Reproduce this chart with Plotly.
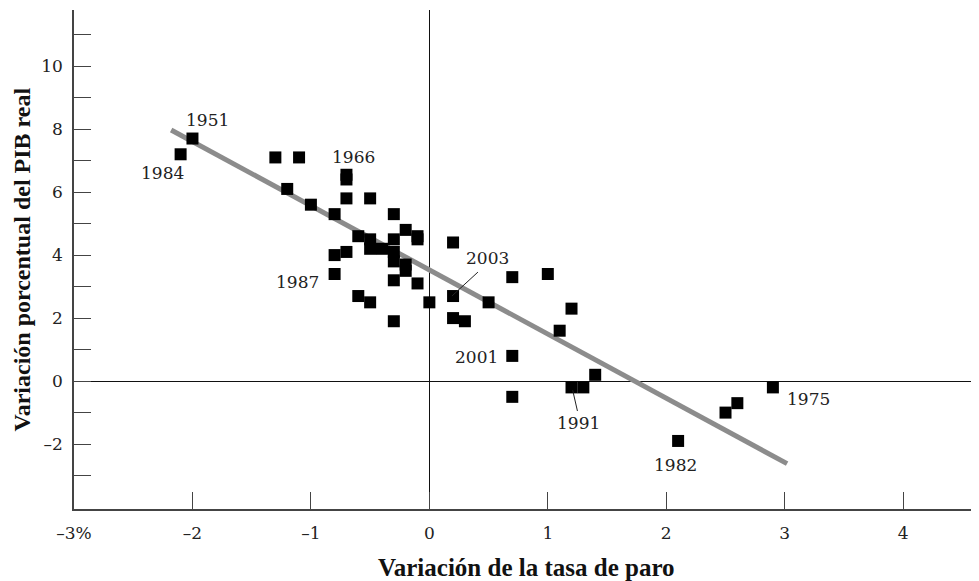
import plotly.graph_objects as go

# Data: change in unemployment rate (x) vs. % change in real GDP (y)
unemp_change = [-2.1, -2.0, -1.3, -1.1, -1.2, -1.0, -0.8, -0.7, -0.7, -0.7,
                -0.5, -0.3, -0.2, -0.1, -0.1, -0.6, -0.5, -0.5, -0.4, -0.3,
                -0.3, -0.3, -0.2, -0.2, -0.7, -0.8, -0.8, -0.3, -0.1, -0.6,
                -0.5, 0.0, -0.3, 0.2, 0.2, 0.2, 0.3, 0.5, 0.7, 1.0,
                1.2, 1.1, 0.7, 0.7, 1.2, 1.3, 1.4, 2.9, 2.6, 2.5, 2.1]
gdp_change = [7.2, 7.7, 7.1, 7.1, 6.1, 5.6, 5.3, 6.55, 6.4, 5.8,
              5.8, 5.3, 4.8, 4.6, 4.5, 4.6, 4.5, 4.2, 4.2, 4.5,
              4.1, 3.8, 3.7, 3.5, 4.1, 4.0, 3.4, 3.2, 3.1, 2.7,
              2.5, 2.5, 1.9, 4.4, 2.7, 2.0, 1.9, 2.5, 3.3, 3.4,
              2.3, 1.6, 0.8, -0.5, -0.2, -0.2, 0.2, -0.2, -0.7, -1.0, -1.9]

# Regression line endpoints
fit_x = [-2.18, 3.02]
fit_y = [7.97, -2.62]

# Year labels
year_labels = ["1951", "1984", "1966", "1987", "2003", "2001", "1991", "1982", "1975"]
year_label_x = [-1.875, -2.25, -0.64, -1.11, 0.49, 0.40, 1.26, 2.08, 3.20]
year_label_y = [8.29, 6.60, 7.11, 3.14, 3.90, 0.76, -1.33, -2.67, -0.57]

x_tickvals = [-3, -2, -1, 0, 1, 2, 3, 4]
x_ticktext = ["–3%", "–2", "–1", "0", "1", "2", "3", "4"]
y_tickvals = list(range(-3, 12))
y_ticktext = [("–" + str(-v) if v < 0 else str(v)) if v % 2 == 0 else "" for v in y_tickvals]

serif = "DejaVu Serif"
bold_serif = "Liberation Serif"

fig = go.Figure()
fig.add_trace(go.Scatter(x=fit_x, y=fit_y, mode="lines",
                         line=dict(color="#8c8c8c", width=5), hoverinfo="skip"))
fig.add_trace(go.Scatter(x=unemp_change, y=gdp_change, mode="markers",
                         marker=dict(symbol="square", size=12, color="black",
                                     line=dict(width=0))))

for t, ax, ay in zip(year_labels, year_label_x, year_label_y):
    fig.add_annotation(x=ax, y=ay, text=t, showarrow=False,
                       font=dict(family=serif, size=17, color="#222"),
                       xanchor="center", yanchor="middle")

# leader lines
fig.add_shape(type="line", x0=0.41, y0=3.46, x1=0.19, y1=2.70,
              line=dict(color="#222", width=1))
fig.add_shape(type="line", x0=1.21, y0=-0.29, x1=1.25, y1=-0.95,
              line=dict(color="#222", width=1))

fig.add_annotation(xref="paper", yref="paper", x=0.5, y=-0.118,
                   text="<b>Variación de la tasa de paro</b>", showarrow=False,
                   font=dict(family=bold_serif, size=25, color="#111"),
                   xanchor="center", yanchor="middle")
fig.add_annotation(xref="paper", yref="paper", x=-0.0575, y=0.5,
                   text="<b>Variación porcentual del PIB real</b>", showarrow=False,
                   textangle=-90,
                   font=dict(family=bold_serif, size=24, color="#111"),
                   xanchor="center", yanchor="middle")

fig.update_layout(
    width=971, height=573,
    margin=dict(l=66, r=0, t=2, b=72),
    paper_bgcolor="white", plot_bgcolor="white",
    showlegend=False,
    xaxis=dict(range=[-3.0, 4.64], tickvals=x_tickvals, ticktext=x_ticktext,
               ticks="inside", ticklen=17, tickwidth=1.3, tickcolor="#444",
               showline=True, linecolor="#444", linewidth=1.5,
               showgrid=False, zeroline=True, zerolinecolor="#111", zerolinewidth=1,
               tickfont=dict(family=serif, size=17, color="#222"),
               ticklabelstandoff=8),
    yaxis=dict(range=[-4.06, 11.78], tickvals=y_tickvals, ticktext=y_ticktext,
               ticks="inside", ticklen=17, tickwidth=1.3, tickcolor="#444",
               showline=True, linecolor="#444", linewidth=1.5,
               showgrid=False, zeroline=True, zerolinecolor="#111", zerolinewidth=1,
               tickfont=dict(family=serif, size=17, color="#222"),
               ticklabelstandoff=6),
)

fig.write_html("out.html")
